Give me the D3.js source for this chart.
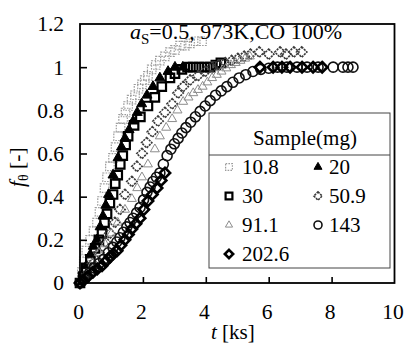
<!DOCTYPE html>
<html>
<head>
<meta charset="utf-8">
<script src="https://cdn.jsdelivr.net/npm/d3@7"></script>
<style>
  html, body { margin: 0; padding: 0; background: #fff; }
</style>
</head>
<body>
<svg id="chart" width="406" height="345"></svg>
<script>
// Fraction f_theta versus time t [ks] for several sample masses (mg)
const sampleLabels = ["10.8", "20", "30", "50.9", "91.1", "143", "202.6"];

const xTicks = [0, 2, 4, 6, 8, 10];
const yTicks = [0, 0.2, 0.4, 0.6, 0.8, 1.0, 1.2];
const yTickLabels = ["0", "0.2", "0.4", "0.6", "0.8", "1", "1.2"];

// [t (ks), f_theta (-)]
const s10_8 = [[0,0],[0.06,0.05],[0.12,0.10],[0.2,0.15],[0.32,0.20],[0.43,0.24],[0.54,0.28],[0.62,0.33],[0.70,0.38],[0.78,0.44],[0.86,0.49],[0.95,0.54],[1.05,0.58],[1.13,0.63],[1.21,0.68],[1.29,0.72],[1.37,0.76],[1.45,0.79],[1.53,0.82],[1.64,0.85],[1.75,0.87],[1.86,0.90],[1.97,0.92],[2.06,0.94],[2.16,0.96],[2.28,0.99],[2.41,1.01],[2.54,1.03],[2.70,1.05],[2.86,1.07],[3.02,1.08],[3.18,1.10],[3.34,1.10],[3.50,1.11],[3.68,1.12],[3.88,1.12]];
const s20 = [[0,0],[0.08,0.03],[0.2,0.08],[0.32,0.13],[0.42,0.17],[0.54,0.20],[0.64,0.26],[0.73,0.31],[0.82,0.36],[0.91,0.41],[1.05,0.50],[1.21,0.58],[1.32,0.63],[1.43,0.67],[1.56,0.71],[1.69,0.75],[1.82,0.79],[1.96,0.83],[2.13,0.87],[2.32,0.91],[2.54,0.95],[2.8,0.98],[3.02,1.0],[3.27,1.0]];
const s30 = [[0,0],[0.1,0.03],[0.2,0.07],[0.33,0.11],[0.48,0.16],[0.6,0.2],[0.70,0.23],[0.78,0.28],[0.86,0.32],[0.95,0.37],[1.05,0.41],[1.12,0.46],[1.2,0.50],[1.28,0.55],[1.36,0.59],[1.45,0.64],[1.53,0.68],[1.72,0.73],[1.92,0.77],[2.16,0.82],[2.38,0.86],[2.6,0.91],[2.86,0.95],[3.02,0.97],[3.24,0.99],[3.42,1.0],[3.6,1.0],[3.78,1.0],[3.96,1.0],[4.14,1.0],[4.32,1.01],[4.48,1.02]];
const s50_9 = [[0,0],[0.2,0.04],[0.4,0.09],[0.6,0.14],[0.8,0.19],[0.95,0.23],[1.11,0.28],[1.27,0.34],[1.43,0.41],[1.65,0.47],[1.81,0.54],[1.97,0.60],[2.12,0.65],[2.3,0.70],[2.48,0.75],[2.7,0.79],[2.93,0.83],[3.12,0.88],[3.28,0.91],[3.5,0.94],[3.75,0.96],[3.98,0.98],[4.2,1.0],[4.4,1.01],[4.62,1.02],[4.82,1.03],[5.02,1.04],[5.22,1.05],[5.42,1.06],[5.7,1.07],[6.0,1.06],[6.36,1.07],[6.55,1.06],[6.8,1.07],[7.05,1.07]];
const s91_1 = [[0,0],[0.2,0.04],[0.4,0.09],[0.6,0.14],[0.8,0.18],[1.0,0.23],[1.2,0.28],[1.43,0.34],[1.65,0.39],[1.82,0.44],[1.97,0.49],[2.16,0.55],[2.38,0.62],[2.54,0.68],[2.74,0.72],[2.93,0.76],[3.1,0.80],[3.28,0.84],[3.45,0.86],[3.6,0.88],[3.75,0.895],[3.9,0.91],[4.05,0.93],[4.2,0.95],[4.35,0.965],[4.5,0.98],[4.65,0.995],[4.8,1.01],[4.95,1.02],[5.1,1.03],[5.25,1.04],[5.4,1.05]];
const s143 = [[0,0],[0.15,0.02],[0.3,0.045],[0.45,0.07],[0.6,0.09],[0.75,0.11],[0.9,0.14],[1.05,0.165],[1.17,0.19],[1.27,0.21],[1.38,0.235],[1.49,0.26],[1.59,0.28],[1.69,0.30],[1.8,0.325],[1.91,0.35],[2.02,0.385],[2.13,0.42],[2.23,0.445],[2.32,0.47],[2.43,0.49],[2.54,0.51],[2.65,0.55],[2.77,0.59],[2.89,0.62],[3.0,0.645],[3.12,0.67],[3.24,0.695],[3.37,0.72],[3.52,0.745],[3.67,0.77],[3.82,0.795],[3.98,0.82],[4.14,0.845],[4.31,0.87],[4.49,0.89],[4.67,0.91],[4.86,0.93],[5.06,0.95],[5.27,0.965],[5.5,0.98],[5.75,0.99],[6.0,0.995],[6.28,1.0],[6.58,1.0],[6.9,1.0],[7.22,1.0],[7.57,1.0],[8.05,1.0],[8.36,1.0],[8.52,1.0],[8.68,1.0]];
const s202_6 = [[0,0],[0.1,0.01],[0.25,0.03],[0.41,0.05],[0.55,0.065],[0.7,0.08],[0.82,0.1],[0.95,0.12],[1.06,0.135],[1.18,0.15],[1.3,0.175],[1.43,0.2],[1.54,0.225],[1.65,0.25],[1.78,0.275],[1.91,0.30],[2.03,0.34],[2.16,0.38],[2.3,0.41],[2.45,0.44],[2.58,0.475],[2.70,0.51],[5.72,1.0],[6.14,1.0],[6.42,1.0],[6.68,1.0],[7.06,1.0],[7.41,1.0],[7.7,1.0]];

const seriesData = [s10_8, s20, s30, s50_9, s91_1, s143, s202_6];

const FONT = "'Liberation Serif', 'DejaVu Serif', 'Times New Roman', Times, serif";

// marker styles, one per sample
const styles = [
  { shape: "square",   size: 8.5, fill: "none", stroke: "#9c9c9c", sw: 1.2, dash: "1.6,1.2" },
  { shape: "triangle", size: 10,  fill: "#000", stroke: "#000",    sw: 1.0, dash: null },
  { shape: "square",   size: 8.5, fill: "none", stroke: "#000",    sw: 2.2, dash: null },
  { shape: "diamond",  size: 5.2, fill: "none", stroke: "#3a3a3a", sw: 1.6, dash: "2.2,0.9" },
  { shape: "triangle", size: 9,   fill: "none", stroke: "#8c8c8c", sw: 1.0, dash: null },
  { shape: "circle",   size: 5,   fill: "none", stroke: "#111",    sw: 1.6, dash: null },
  { shape: "diamond",  size: 5.2, fill: "none", stroke: "#000",    sw: 2.6, dash: null }
];

const svg = d3.select("#chart").style("font-family", FONT);
const x = d3.scaleLinear().domain([0, 10]).range([80, 394.5]);
const y = d3.scaleLinear().domain([0, 1.2]).range([283, 24]);

function markerPath(shape, s) {
  if (shape === "square") return d3.symbol().type(d3.symbolSquare).size(s * s)();
  if (shape === "circle") return d3.symbol().type(d3.symbolCircle).size(Math.PI * s * s)();
  if (shape === "triangle") {
    // equilateral triangle of side s, centred
    const h = s * Math.sqrt(3) / 2;
    return d3.line()([[0, -h * 2 / 3], [s / 2, h / 3], [-s / 2, h / 3]]) + "Z";
  }
  // diamond: square turned 45 degrees, s = half diagonal
  return d3.line()([[0, -s], [s, 0], [0, s], [-s, 0]]) + "Z";
}

function drawMarker(g, st, cx, cy, scale) {
  g.append("path")
    .attr("d", markerPath(st.shape, st.size * scale))
    .attr("transform", `translate(${cx},${cy})`)
    .attr("fill", st.fill)
    .attr("stroke", st.stroke)
    .attr("stroke-width", st.sw)
    .attr("stroke-dasharray", st.dash)
    .attr("stroke-linejoin", "miter");
}

function styleText(sel, size) {
  return sel.style("font-family", FONT).attr("font-size", size).attr("fill", "#000");
}

// data points
const plot = svg.append("g");
seriesData.forEach((data, i) => {
  const g = plot.append("g").attr("class", "series-" + i);
  data.forEach(d => drawMarker(g, styles[i], x(d[0]), y(d[1]), 1));
});

// axes with inward ticks
const xAxis = svg.append("g")
  .attr("transform", `translate(0,${y(0)})`)
  .call(d3.axisBottom(x).tickValues(xTicks).tickFormat(d3.format("d"))
        .tickSizeInner(-6).tickSizeOuter(0).tickPadding(21));
const yAxis = svg.append("g")
  .attr("transform", `translate(${x(0)},0)`)
  .call(d3.axisLeft(y).tickValues(yTicks).tickFormat((d, i) => yTickLabels[i])
        .tickSizeInner(-7).tickSizeOuter(0).tickPadding(16));

[xAxis, yAxis].forEach(a => {
  a.attr("font-family", null).style("font-family", FONT);
  a.select(".domain").remove();
  a.selectAll(".tick line").attr("stroke", "#000").attr("stroke-width", 1.6);
  styleText(a.selectAll(".tick text"), 21.5);
});
xAxis.selectAll(".tick text").attr("dx", -2);
xAxis.selectAll(".tick").filter(d => d === 0 || d === 10).select("line").remove();
yAxis.selectAll(".tick").filter(d => d === 0 || d === 1.2).select("line").remove();

// plot frame
svg.append("rect")
  .attr("x", x(0)).attr("y", y(1.2))
  .attr("width", x(10) - x(0)).attr("height", y(0) - y(1.2))
  .attr("fill", "none").attr("stroke", "#000").attr("stroke-width", 1.8);

// condition annotation
const ann = styleText(svg.append("text").attr("x", 130).attr("y", 39), 22);
ann.append("tspan").attr("font-style", "italic").text("a");
ann.append("tspan").attr("font-size", 15).attr("dy", 5).text("S");
ann.append("tspan").attr("dy", -5).text("=0.5, 973K,CO 100%");

// axis titles
const xt = styleText(svg.append("text").attr("x", 211).attr("y", 339), 21);
xt.append("tspan").attr("font-style", "italic").text("t");
xt.append("tspan").text("  [ks]");

const yt = styleText(svg.append("text").attr("transform", "translate(24,187) rotate(-90)"), 21.5);
yt.append("tspan").attr("font-style", "italic").text("f");
yt.append("tspan").attr("font-size", 14).attr("dy", 4).text("θ");
yt.append("tspan").attr("dy", -4).text(" [-]");

// legend
const lg = svg.append("g");
lg.append("rect").attr("x", 209).attr("y", 113).attr("width", 181).attr("height", 155)
  .attr("fill", "#fff").attr("stroke", "#444").attr("stroke-width", 1);
lg.append("line").attr("x1", 209).attr("x2", 390).attr("y1", 155).attr("y2", 155)
  .attr("stroke", "#444").attr("stroke-width", 1);
styleText(lg.append("text").attr("x", 305).attr("y", 145).attr("text-anchor", "middle"), 21)
  .text("Sample(mg)");

const rowBase = [174, 203, 232, 261];
const colMarkX = [229, 318];
const colTextX = [242, 329];
sampleLabels.forEach((lab, i) => {
  const r = Math.floor(i / 2), c = i % 2;
  drawMarker(lg, styles[i], colMarkX[c], rowBase[r] - 7, 0.8);
  styleText(lg.append("text").attr("x", colTextX[c]).attr("y", rowBase[r]), 21).text(lab);
});
</script>
</body>
</html>
